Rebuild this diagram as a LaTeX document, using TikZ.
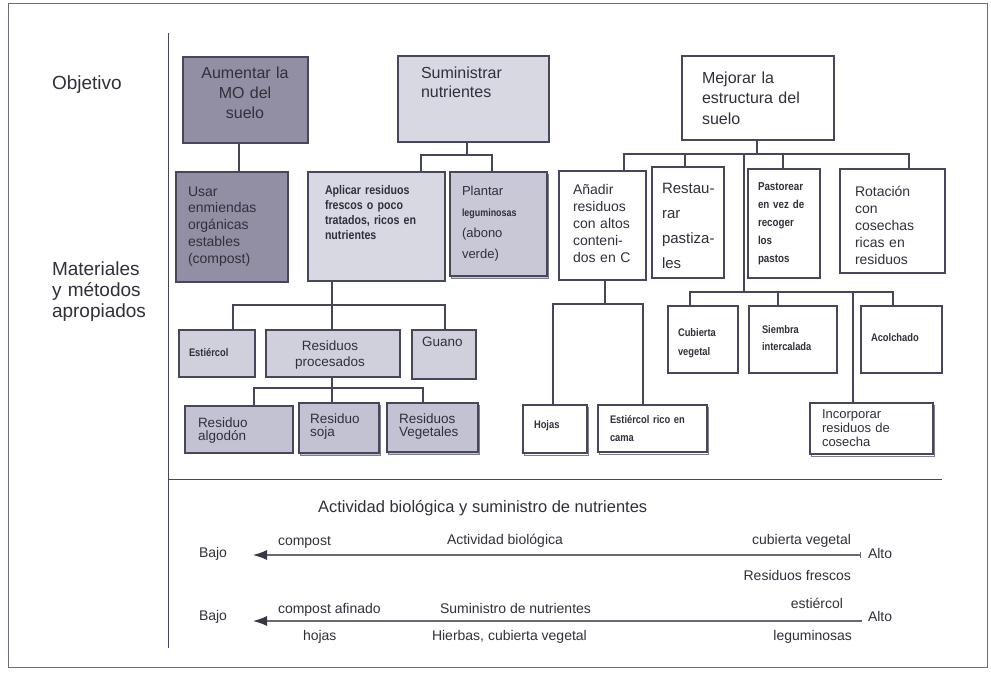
\documentclass[tikz,border=0pt]{standalone}
\usepackage{fontspec}
\setmainfont{Liberation Sans}
\newfontfamily\nb[FakeStretch=0.85]{Liberation Sans}
\usetikzlibrary{arrows.meta,shadows}
\definecolor{dkfill}{RGB}{146,143,164}
\definecolor{ltfill}{RGB}{216,216,226}
\definecolor{mdfill}{RGB}{200,200,214}
\definecolor{lwfill}{RGB}{208,208,220}
\definecolor{lwtwo}{RGB}{194,194,210}
\definecolor{boxc}{RGB}{70,70,92}
\definecolor{linec}{RGB}{70,70,90}
\definecolor{txtc}{RGB}{48,48,60}
\definecolor{framec}{RGB}{110,110,120}
\definecolor{arrc}{RGB}{105,105,118}
\definecolor{tipc}{RGB}{55,55,68}
\newcommand\fs[2]{\fontsize{#1}{#2}\selectfont}
\newcommand\mybox[7][]{\node[bx,fill=#7,#1,minimum width={#5-#3},minimum height={#6-#4},anchor=north west] (#2) at (#3,#4) {};}
\tikzset{
  bx/.style={draw=boxc,line width=1.1pt,inner sep=0pt,outer sep=0pt,rectangle},
  shd/.style={copy shadow={shadow xshift=1.5pt,shadow yshift=-2pt,draw=boxc!70,line width=0.8pt}},
  tx/.style={text=txtc,inner sep=0pt,outer sep=0pt,align=left,anchor=base west},
  cn/.style={draw=linec,line width=1.1pt},
  arr/.style={draw=arrc,line width=1.1pt},
  tipst/.style={-{Latex[length=14pt,width=10pt,color=tipc]}},
}
\begin{document}
\begin{tikzpicture}[x=1pt,y=-1pt]
\useasboundingbox (0,0) rectangle (991,678);
\fill[white] (0,0) rectangle (991,678);
\draw[framec,line width=1pt] (8,3) rectangle (987,667);
\draw[linec,line width=1pt] (168,33) -- (168,648);
\draw[linec,line width=1pt] (168,479) -- (942,479);

% row labels
\node[tx,font=\fs{19}{21.5},text width=130] (obj) at (52,89) {Objetivo};
\node[tx,font=\fs{19}{21},text width=130] (mat) at (52,275) {Materiales\\y métodos\\apropiados};

% boxes
\mybox{aum}{183}{57}{308}{143}{dkfill}
\mybox{sum}{398}{56}{549}{142}{ltfill}
\mybox{mej}{682}{56}{834}{140}{white}
\mybox{usar}{176}{172}{288}{282}{dkfill}
\mybox{apl}{308}{172}{445}{281}{ltfill}
\mybox[shd]{pla}{450}{172}{547}{276}{mdfill}
\mybox{ana}{559}{171}{646}{280}{white}
\mybox{res}{652}{167}{724}{278}{white}
\mybox{pas}{748}{169}{820}{278}{white}
\mybox{rot}{840}{169}{945}{273}{white}
\mybox{cub}{668}{306}{738}{373}{white}
\mybox{sie}{749}{306}{837}{373}{white}
\mybox{aco}{861}{306}{942}{373}{white}
\mybox[shd]{inc}{810}{403}{933}{454}{white}
\mybox[shd]{hoj}{523}{405}{587}{453}{white}
\mybox[shd]{estr}{598}{405}{707}{452}{white}
\mybox{est}{179}{330}{255}{377}{lwfill}
\mybox{rpr}{266}{330}{400}{377}{lwfill}
\mybox{gua}{412}{330}{476}{379}{lwfill}
\mybox{alg}{185}{406}{293}{453}{lwtwo}
\mybox[shd]{soj}{299}{403}{379}{453}{lwtwo}
\mybox[shd]{veg}{387}{403}{478}{452}{lwtwo}

% junction coordinates
\coordinate (xa) at (239,0);
\coordinate (jb) at (467,155);
\coordinate (xb1) at (421,155);
\coordinate (xb2) at (492,155);
\coordinate (jc) at (757,154);
\coordinate (xc1) at (624,154);
\coordinate (xc2) at (685,154);
\coordinate (xc3) at (744,154);
\coordinate (xc4) at (783,154);
\coordinate (xc5) at (909,154);
\coordinate (jd) at (744,292);
\coordinate (xd1) at (690,292);
\coordinate (xd2) at (778,292);
\coordinate (xd3) at (853,292);
\coordinate (xd4) at (893,292);
\coordinate (je) at (605,304);
\coordinate (xe1) at (553,304);
\coordinate (xe2) at (643,304);
\coordinate (jf) at (332,305);
\coordinate (xf1) at (233,305);
\coordinate (xf2) at (445,305);
\coordinate (jg) at (332,388);
\coordinate (xg1) at (254,388);
\coordinate (xg2) at (423,388);

% connectors
\draw[cn] (aum.south -| xa) -- (usar.north -| xa);
\draw[cn] (sum.south -| jb) -- (jb);
\draw[cn] (apl.north -| xb1) -- (xb1) -- (xb2) -- (pla.north -| xb2);
\draw[cn] (mej.south -| jc) -- (jc);
\draw[cn] (ana.north -| xc1) -- (xc1) -- (xc5) -- (rot.north -| xc5);
\draw[cn] (res.north -| xc2) -- (xc2);
\draw[cn] (pas.north -| xc4) -- (xc4);
\draw[cn] (xc3) -- (jd);
\draw[cn] (cub.north -| xd1) -- (xd1) -- (xd4) -- (aco.north -| xd4);
\draw[cn] (sie.north -| xd2) -- (xd2);
\draw[cn] (xd3) -- (inc.north -| xd3);
\draw[cn] (ana.south -| je) -- (je);
\draw[cn] (hoj.north -| xe1) -- (xe1) -- (xe2) -- (estr.north -| xe2);
\draw[cn] (apl.south -| jf) -- (jf);
\draw[cn] (est.north -| xf1) -- (xf1) -- (xf2) -- (gua.north -| xf2);
\draw[cn] (rpr.north -| jf) -- (jf);
\draw[cn] (rpr.south -| jg) -- (jg);
\draw[cn] (alg.north -| xg1) -- (xg1) -- (xg2) -- (veg.north -| xg2);
\draw[cn] (soj.north -| jg) -- (jg);

% box texts
\node[tx,font=\fs{16}{20},text width=124,align=center,anchor=base] (taum) at (245,78) {Aumentar la\\MO del\\suelo};
\node[tx,font=\fs{16}{19.5},text width=125] (tsum) at (421,78) {Suministrar\\nutrientes};
\node[tx,font=\fs{16}{20.5},text width=130] (tmej) at (702,83) {Mejorar la\\estructura del\\suelo};
\node[tx,font=\fs{14}{16.8},text width=100] (tusar) at (188,196) {Usar\\enmiendas\\orgánicas\\estables\\(compost)};
\node[tx,font=\nb\bfseries\fs{12.5}{15.3},text width=125] (tapl) at (325,194) {Aplicar residuos\\frescos o poco\\tratados, ricos en\\nutrientes};
\node[tx,font=\fs{13}{21},text width=90] (tpla) at (462,195) {Plantar\\{\nb\bfseries\fs{10.5}{21}leguminosas}\\(abono\\verde)};
\node[tx,font=\fs{14}{17},text width=80] (tana) at (573,194) {Añadir\\residuos\\con altos\\conteni-\\dos en C};
\node[tx,font=\fs{15}{25},text width=70] (tres) at (662,193) {Restau-\\rar\\pastiza-\\les};
\node[tx,font=\nb\bfseries\fs{11.5}{18},text width=70] (tpas) at (758,190) {Pastorear\\en vez de\\recoger\\los\\pastos};
\node[tx,font=\fs{14}{17},text width=90] (trot) at (855,196) {Rotación\\con\\cosechas\\ricas en\\residuos};
\node[tx,font=\nb\bfseries\fs{11}{19.5},text width=60] (tcub) at (678,336) {Cubierta\\vegetal};
\node[tx,font=\nb\bfseries\fs{11}{17},text width=80] (tsie) at (762,333) {Siembra\\intercalada};
\node[tx,font=\nb\bfseries\fs{11}{13}] (taco) at (871,341) {Acolchado};
\node[tx,font=\fs{13}{14},text width=110] (tinc) at (822,418) {Incorporar\\residuos de\\cosecha};
\node[tx,font=\nb\bfseries\fs{11}{13}] (thoj) at (534,428) {Hojas};
\node[tx,font=\nb\bfseries\fs{11}{18},text width=100] (testr) at (610,423) {Estiércol rico en\\cama};
\node[tx,font=\nb\bfseries\fs{11}{13}] (test) at (189,356) {Estiércol};
\node[tx,font=\fs{13.5}{16},text width=130,align=center,anchor=base] (trpr) at (330,350) {Residuos\\procesados};
\node[tx,font=\fs{13.5}{16}] (tgua) at (422,346) {Guano};
\node[tx,font=\fs{13.5}{13},text width=100] (talg) at (198,427) {Residuo\\algodón};
\node[tx,font=\fs{13.5}{13},text width=75] (tsoj) at (310,423) {Residuo\\soja};
\node[tx,font=\fs{13.5}{13},text width=80] (tveg) at (399,423) {Residuos\\Vegetales};

% bottom scale
\node[tx,font=\fs{16.5}{18}] (title) at (318,512) {Actividad biológica y suministro de nutrientes};
\node[tx,font=\fs{14}{16}] (bajo1) at (199,557) {Bajo};
\node[tx,font=\fs{14}{16}] (alto1) at (868,558) {Alto};
\node[tx,font=\fs{14}{16}] (comp1) at (278,545) {compost};
\node[tx,font=\fs{14}{16}] (act1) at (447,544) {Actividad biológica};
\node[tx,font=\fs{14}{16},anchor=base east] (cub1) at (851,544) {cubierta vegetal};
\node[tx,font=\fs{14}{16},anchor=base east] (rf1) at (851,580) {Residuos frescos};
\coordinate (a1r) at (861,555);
\coordinate (a1l) at (253,555);
\draw[arr,{Bar[width=6pt]}-{Latex[length=14pt,width=10pt,color=tipc]}] (a1r) -- (a1l);

\node[tx,font=\fs{14}{16}] (bajo2) at (199,620) {Bajo};
\node[tx,font=\fs{14}{16}] (alto2) at (868,621) {Alto};
\node[tx,font=\fs{14}{16}] (comp2) at (278,613) {compost afinado};
\node[tx,font=\fs{14}{16}] (sum2) at (440,613) {Suministro de nutrientes};
\node[tx,font=\fs{14}{16},anchor=base east] (est2) at (843,608) {estiércol};
\node[tx,font=\fs{14}{16}] (hoj2) at (303,640) {hojas};
\node[tx,font=\fs{14}{16}] (hie2) at (432,640) {Hierbas, cubierta vegetal};
\node[tx,font=\fs{14}{16},anchor=base east] (leg2) at (852,640) {leguminosas};
\coordinate (a2r) at (862,621);
\coordinate (a2l) at (253,621);
\draw[arr,tipst] (a2r) -- (a2l);
\end{tikzpicture}
\end{document}
